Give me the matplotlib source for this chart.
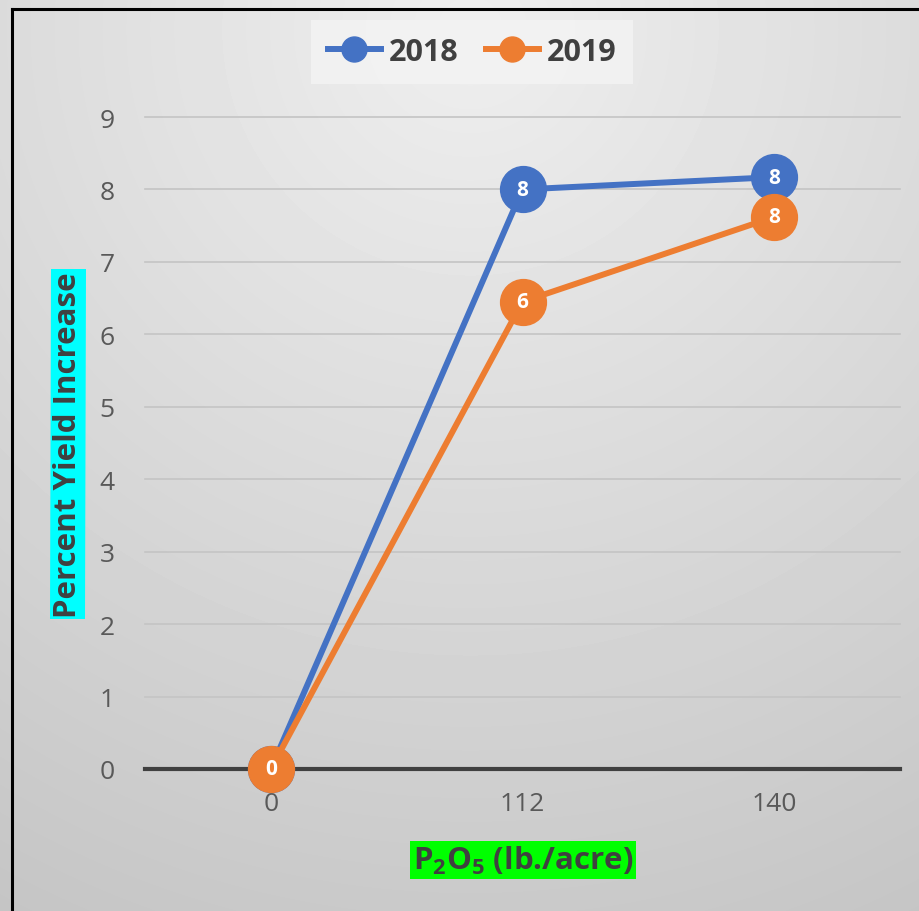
import numpy as np
import matplotlib
matplotlib.use("Agg")
import matplotlib.pyplot as plt
from matplotlib.lines import Line2D

# percent yield increase vs P2O5 rate
rates = ["0", "112", "140"]
yield_2018 = [0.0, 8.0, 8.17]
yield_2019 = [0.0, 6.45, 7.62]
years = ["2018", "2019"]
yticks = list(range(0, 10))

BLUE = "#4472c4"
ORANGE = "#ed7d31"
TXT = "#595959"
DARK = "#404040"

plt.rcParams["font.family"] = ["Open Sans", "DejaVu Sans"]
plt.rcParams["mathtext.fontset"] = "custom"
plt.rcParams["mathtext.rm"] = "Open Sans:bold"
plt.rcParams["mathtext.it"] = "Open Sans:bold"
plt.rcParams["mathtext.bf"] = "Open Sans:bold"

W, H = 920, 912
fig = plt.figure(figsize=(W / 100, H / 100), dpi=100)

# soft gradient background, lighter near the top
bg = fig.add_axes([0, 0, 1, 1], zorder=-10)
yy, xx = np.mgrid[0:H, 0:W]
d = np.sqrt(((xx - 470) / W) ** 2 + ((yy - 30) / H) ** 2)
shade = np.clip(0.935 - 0.15 * d, 0.77, 0.94)
bg.imshow(shade, cmap="gray", vmin=0, vmax=1, aspect="auto",
          extent=[0, W, H, 0], interpolation="bilinear")
bg.plot([12, 12], [H, 10], color="black", lw=2.2)
bg.plot([12, W], [10, 10], color="black", lw=2.2)
bg.set_xlim(0, W); bg.set_ylim(H, 0)
bg.axis("off")

ax = fig.add_axes([145 / W, 1 - 770 / H, 755 / W, (770 - 118) / H])
ax.set_facecolor("none")
x = np.arange(len(rates))

series = [(yield_2018, BLUE, 3), (yield_2019, ORANGE, 4)]
for vals, col, z in series:
    ax.plot(x, vals, color=col, lw=4.3, marker="o", ms=33,
            markeredgecolor=col, zorder=z, clip_on=False)
    for xi, v in zip(x, vals):
        ax.text(xi, v, f"{v:.0f}", ha="center", va="center", color="white",
                fontsize=15, fontweight="bold", zorder=z + 0.5)

ax.set_xlim(-0.5, 2.5)
ax.set_ylim(0, 9)
ax.set_yticks(yticks)
ax.set_xticks(x, rates)
for yv in yticks[1:]:
    ax.axhline(yv, color="#c4c4c4", lw=1.2, zorder=0, clip_on=False)
ax.axhline(0, color=DARK, lw=3, zorder=1, clip_on=False)
for s in ax.spines.values():
    s.set_visible(False)
ax.tick_params(length=0, labelsize=19, labelcolor=TXT)
ax.tick_params(axis="y", pad=22)
ax.tick_params(axis="x", pad=16)

fig.text(68 / W, 1 - 445 / H, "Percent Yield Increase", rotation=90,
         ha="center", va="center", fontsize=22.5, fontweight="bold", color=DARK,
         bbox=dict(boxstyle="square,pad=0.08", fc="#00ffff", ec="none"))
fig.text(523 / W, 1 - 861 / H, r"P$_2$O$_5$ (lb./acre)", ha="center",
         va="center", fontsize=22.5, fontweight="bold", color=DARK,
         bbox=dict(boxstyle="square,pad=0.1", fc="#00ff00", ec="none"))

handles = [Line2D([], [], color=c, lw=4.3, marker="o", ms=18)
           for c in (BLUE, ORANGE)]
leg = fig.legend(handles, years, loc="center", bbox_to_anchor=(472 / W, 1 - 53 / H),
                 ncol=2, frameon=True, fancybox=False, fontsize=22,
                 handlelength=1.75, columnspacing=0.9, handletextpad=0.25,
                 borderpad=0.55, borderaxespad=0)
leg.get_frame().set_facecolor("#f4f4f4")
leg.get_frame().set_edgecolor("none")
for t in leg.get_texts():
    t.set_fontweight("bold")
    t.set_color(DARK)

fig.savefig("out.png", dpi=100)
